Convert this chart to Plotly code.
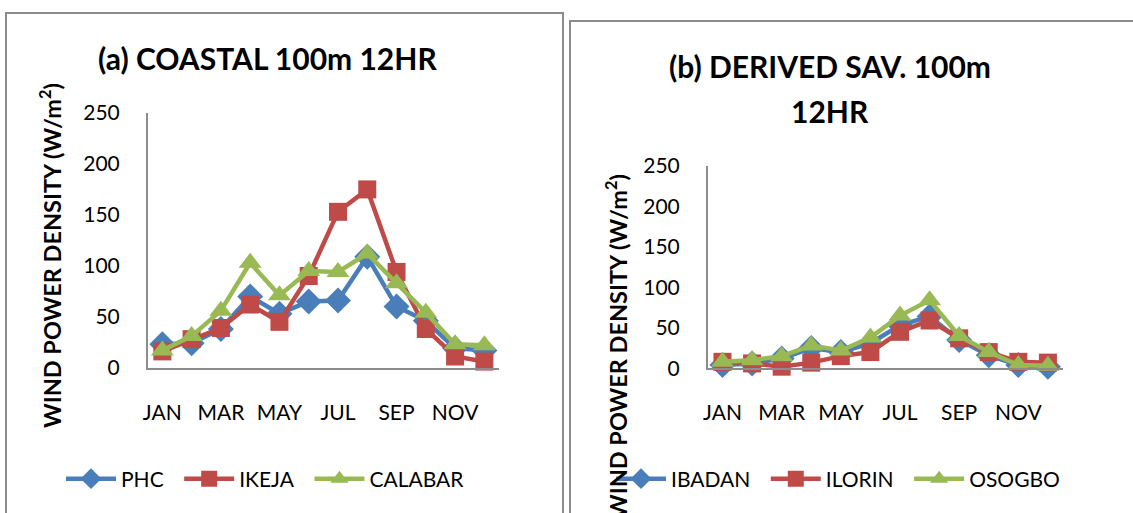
import plotly.graph_objects as go

months = ["JAN", "FEB", "MAR", "APR", "MAY", "JUN", "JUL", "AUG", "SEP", "OCT", "NOV", "DEC"]
month_ticks = ["JAN", "MAR", "MAY", "JUL", "SEP", "NOV"]
y_ticks = [0, 50, 100, 150, 200, 250]

# (a) Coastal
phc = [23, 24, 38, 70, 53, 65, 66, 109, 60, 46, 19, 17]
ikeja = [16, 28, 39, 62, 45, 90, 153, 175, 94, 38, 11, 6]
calabar = [17, 31, 56, 103, 71, 95, 94, 112, 83, 54, 23, 22]

# (b) Derived savanna
ibadan = [4, 6, 12, 25, 20, 31, 53, 64, 35, 16, 4, 2]
ilorin = [8, 6, 2, 7, 15, 20, 45, 59, 37, 20, 8, 7]
osogbo = [8, 10, 15, 28, 22, 38, 65, 84, 40, 20, 4, 3]

BLUE = "#4A7EBB"
RED = "#BE4B48"
GREEN = "#98B954"
FONT = "Lato"
PAD = "\u2002"  # spacing after legend labels

W, H = 1133, 513


def px(x):
    return x / W


def py(y):
    return 1 - y / H


fig = go.Figure()

series_a = [("PHC", phc, BLUE, "diamond", 20), ("IKEJA", ikeja, RED, "square", 18),
            ("CALABAR", calabar, GREEN, "triangle-up", 20)]
series_b = [("IBADAN", ibadan, BLUE, "diamond", 20), ("ILORIN", ilorin, RED, "square", 18),
            ("OSOGBO", osogbo, GREEN, "triangle-up", 20)]

for name, vals, col, sym, sz in series_a:
    fig.add_trace(go.Scatter(x=months, y=vals, name=name + PAD, mode="lines+markers",
                             line=dict(color=col, width=4.5),
                             marker=dict(symbol=sym, size=sz, color=col),
                             xaxis="x", yaxis="y", legend="legend", cliponaxis=False))
for name, vals, col, sym, sz in series_b:
    fig.add_trace(go.Scatter(x=months, y=vals, name=name + PAD, mode="lines+markers",
                             line=dict(color=col, width=4.5),
                             marker=dict(symbol=sym, size=sz, color=col),
                             xaxis="x2", yaxis="y2", legend="legend2", cliponaxis=False))

axis_common = dict(showgrid=False, zeroline=False, showline=True, linecolor="#8C8C8C",
                   linewidth=1.5, ticks="", automargin=False,
                   tickfont=dict(family=FONT, size=21, color="black"))

legend_common = dict(orientation="h", xanchor="left", yanchor="middle", itemwidth=50,
                     font=dict(family=FONT, size=21, color="black"), bgcolor="rgba(0,0,0,0)")

fig.update_layout(
    template="none",
    width=W, height=H, autosize=False,
    margin=dict(l=0, r=0, t=0, b=0, pad=0, autoexpand=False),
    paper_bgcolor="white", plot_bgcolor="white",
    font=dict(family=FONT, color="black"),
    xaxis=dict(domain=[px(147.7), px(499)], type="category", categoryorder="array",
               categoryarray=months, tickvals=month_ticks, range=[-0.5, 11.5],
               ticklabelstandoff=25, anchor="y", **axis_common),
    yaxis=dict(domain=[py(367.7), py(113)], range=[0, 250], tickvals=y_ticks,
               ticklabelstandoff=22, anchor="x", **axis_common),
    xaxis2=dict(domain=[px(707.7), px(1062.7)], type="category", categoryorder="array",
                categoryarray=months, tickvals=month_ticks, range=[-0.5, 11.5],
                ticklabelstandoff=25, anchor="y2", **axis_common),
    yaxis2=dict(domain=[py(368.3), py(165.7)], range=[0, 250], tickvals=y_ticks,
                ticklabelstandoff=22, anchor="x2", **axis_common),
    legend=dict(x=px(61), y=py(479), **legend_common),
    legend2=dict(x=px(611), y=py(479), **legend_common),
    showlegend=True,
)

# panel borders
fig.add_shape(type="rect", xref="paper", yref="paper", x0=px(6), x1=px(563), y0=py(530), y1=py(13),
              line=dict(color="#8C8C8C", width=2), fillcolor="rgba(0,0,0,0)", layer="below")
fig.add_shape(type="rect", xref="paper", yref="paper", x0=px(570), x1=px(1150), y0=py(530), y1=py(21),
              line=dict(color="#8C8C8C", width=2), fillcolor="rgba(0,0,0,0)", layer="below")

# titles
fig.add_annotation(text="<b>(a) COASTAL 100m 12HR</b>", xref="paper", yref="paper",
                   x=px(267), y=py(58), showarrow=False, xanchor="center", yanchor="middle",
                   font=dict(family=FONT, size=30, color="black"))
fig.add_annotation(text="<b>(b) DERIVED SAV. 100m</b>", xref="paper", yref="paper",
                   x=px(830), y=py(66), showarrow=False, xanchor="center", yanchor="middle",
                   font=dict(family=FONT, size=30, color="black"))
fig.add_annotation(text="<b>12HR</b>", xref="paper", yref="paper",
                   x=px(830), y=py(111), showarrow=False, xanchor="center", yanchor="middle",
                   font=dict(family=FONT, size=30, color="black"))

# y-axis titles
ytitle = "<b>WIND POWER DENSITY (W/m<sup>2</sup>)</b>"
fig.add_annotation(text=ytitle, xref="paper", yref="paper", x=px(50), y=py(256),
                   showarrow=False, textangle=-90, xanchor="center", yanchor="middle",
                   font=dict(family=FONT, size=23.5, color="black"))
fig.add_annotation(text=ytitle, xref="paper", yref="paper", x=px(616), y=py(347),
                   showarrow=False, textangle=-90, xanchor="center", yanchor="middle",
                   font=dict(family=FONT, size=23.5, color="black"))

fig.write_html("out.html")
